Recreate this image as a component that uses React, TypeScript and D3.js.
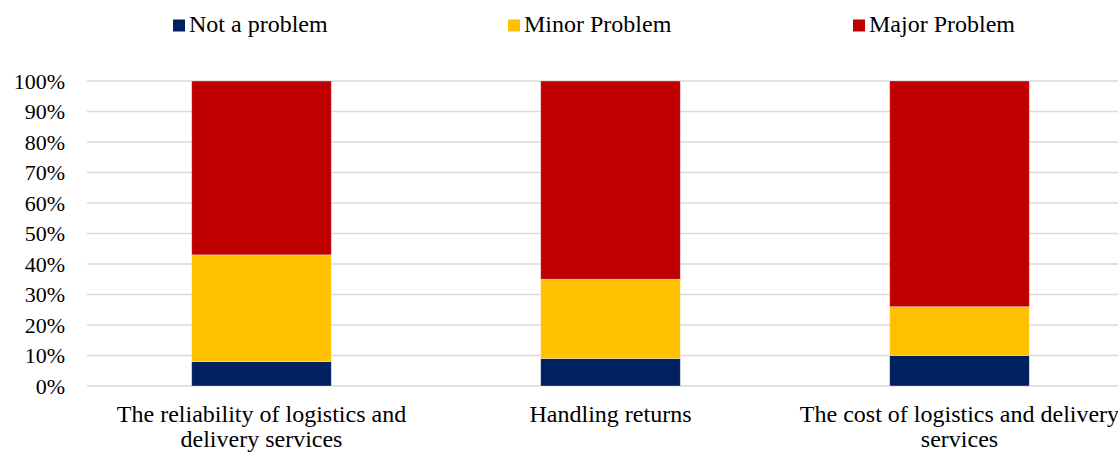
import React, { useEffect, useRef } from "react";
import * as d3 from "d3";

const categories = [
  "The reliability of logistics and delivery services",
  "Handling returns",
  "The cost of logistics and delivery services",
];
const seriesNames = ["Not a problem", "Minor Problem", "Major Problem"];
const notAProblem = [8, 9, 10];
const minorProblem = [35, 26, 16];
const majorProblem = [57, 65, 74];
const seriesColors = ["#002060", "#FFC000", "#C00000"];
const yTicks = [0, 10, 20, 30, 40, 50, 60, 70, 80, 90, 100];

const W = 1118;
const H = 452;
const FONT = "Liberation Serif";

export default function App() {
  const ref = useRef<SVGSVGElement | null>(null);

  useEffect(() => {
    const svg = d3.select(ref.current);
    svg.selectAll("*").remove();

    const plotLeft = 87;
    const plotRight = 1134;
    const y0 = 386;
    const y1 = 81;

    const x = d3
      .scaleBand<string>()
      .domain(categories)
      .range([plotLeft, plotRight])
      .paddingInner(0.6)
      .paddingOuter(0.3);
    const y = d3.scaleLinear().domain([0, 100]).range([y0, y1]);

    // gridlines
    svg
      .append("g")
      .selectAll("line")
      .data(yTicks)
      .join("line")
      .attr("x1", plotLeft)
      .attr("x2", W)
      .attr("y1", (d) => y(d))
      .attr("y2", (d) => y(d))
      .attr("stroke", "#d9d9d9")
      .attr("stroke-width", 1.5);

    // y tick labels
    svg
      .append("g")
      .selectAll("text")
      .data(yTicks)
      .join("text")
      .attr("x", 65)
      .attr("y", (d) => y(d))
      .attr("dy", "0.35em")
      .attr("text-anchor", "end")
      .style("font-family", FONT)
      .attr("font-size", 22)
      .attr("fill", "#000")
      .text((d) => `${d}%`);

    // stacked bars
    const rows = categories.map((c, i) => ({
      category: c,
      [seriesNames[0]]: notAProblem[i],
      [seriesNames[1]]: minorProblem[i],
      [seriesNames[2]]: majorProblem[i],
    }));
    const stack = d3.stack<any>().keys(seriesNames);
    const layers = stack(rows);

    svg
      .append("g")
      .selectAll("g")
      .data(layers)
      .join("g")
      .attr("fill", (_, i) => seriesColors[i])
      .selectAll("rect")
      .data((d) => d)
      .join("rect")
      .attr("x", (d: any) => x(d.data.category)!)
      .attr("width", x.bandwidth())
      .attr("y", (d) => y(d[1]))
      .attr("height", (d) => y(d[0]) - y(d[1]))
      .attr("stroke", "#ffffff")
      .attr("stroke-opacity", 0.45)
      .attr("stroke-width", 0.75);

    // category labels, wrapped
    const maxW = 335;
    const labels = svg
      .append("g")
      .selectAll("text")
      .data(categories)
      .join("text")
      .style("font-family", FONT)
      .attr("font-size", 24)
      .attr("fill", "#000")
      .attr("text-anchor", "middle");
    labels.each(function (d) {
      const t = d3.select(this);
      const cx = x(d)! + x.bandwidth() / 2;
      const words = d.split(" ");
      const lines: string[] = [];
      let cur: string[] = [];
      const probe = t.append("tspan");
      words.forEach((w) => {
        const test = [...cur, w].join(" ");
        probe.text(test);
        if ((probe.node() as SVGTSpanElement).getComputedTextLength() > maxW && cur.length) {
          lines.push(cur.join(" "));
          cur = [w];
        } else {
          cur.push(w);
        }
      });
      if (cur.length) lines.push(cur.join(" "));
      probe.remove();
      lines.forEach((ln, i) => {
        t.append("tspan")
          .attr("x", cx)
          .attr("y", 422 + i * 25)
          .text(ln);
      });
    });

    // legend
    const legendX = [173, 508, 853];
    const lg = svg
      .append("g")
      .selectAll("g")
      .data(seriesNames)
      .join("g")
      .attr("transform", (_, i) => `translate(${legendX[i]},0)`);
    lg.append("rect")
      .attr("x", 0)
      .attr("y", 19.5)
      .attr("width", 12)
      .attr("height", 12)
      .attr("fill", (_, i) => seriesColors[i]);
    lg.append("text")
      .attr("x", 16)
      .attr("y", 32)
      .style("font-family", FONT)
      .attr("font-size", 24)
      .attr("fill", "#000")
      .text((d) => d);
  }, []);

  return (
    <svg
      ref={ref}
      width={W}
      height={H}
      style={{ position: "absolute", left: 0, top: 0, background: "#fff" }}
    />
  );
}
